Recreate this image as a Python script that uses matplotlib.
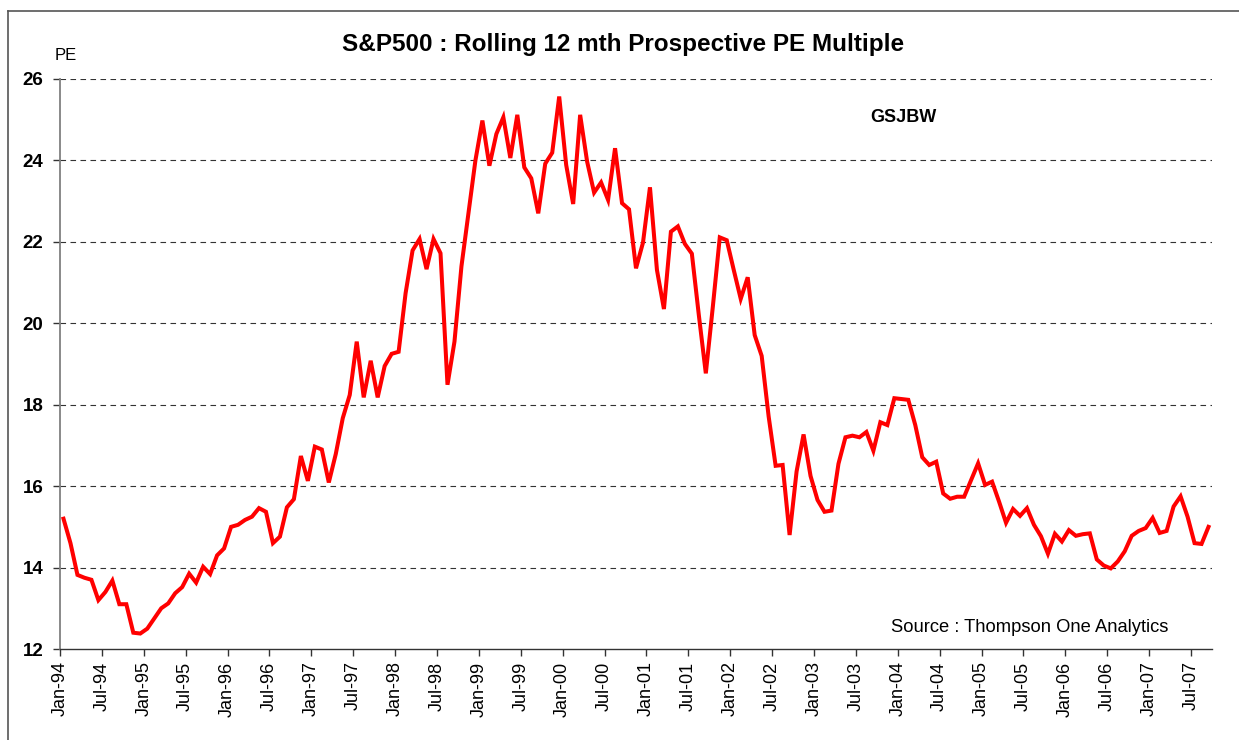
import matplotlib
matplotlib.use("Agg")
import matplotlib.pyplot as plt
from matplotlib.lines import Line2D
import numpy as np

plt.rcParams['font.family'] = ['Liberation Sans', 'DejaVu Sans']

# Monthly rolling 12-month prospective PE, Jan-94 .. Sep-07
pe_values = [
    15.2, 14.6, 13.82, 13.75, 13.7, 13.2, 13.4, 13.68, 13.1, 13.1, 12.4, 12.38,
    12.5, 12.75, 13.0, 13.12, 13.37, 13.52, 13.85, 13.63, 14.02, 13.84, 14.3, 14.47,
    15.0, 15.05, 15.17, 15.25, 15.46, 15.37, 14.6, 14.76, 15.48, 15.68, 16.74, 16.13,
    16.97, 16.9, 16.09, 16.79, 17.67, 18.24, 19.55, 18.18, 19.08, 18.18, 18.95, 19.25,
    19.3, 20.74, 21.79, 22.07, 21.33, 22.07, 21.72, 18.49, 19.55, 21.4, 22.7, 24.0,
    24.98, 23.87, 24.65, 25.06, 24.06, 25.12, 23.83, 23.56, 22.7, 23.92, 24.19, 25.57,
    23.89, 22.93, 25.12, 23.97, 23.21, 23.46, 23.03, 24.3, 22.95, 22.8, 21.35, 21.98,
    23.34, 21.31, 20.35, 22.25, 22.38, 21.95, 21.71, 20.2, 18.77, 20.4, 22.11, 22.04,
    21.31, 20.6, 21.13, 19.71, 19.2, 17.71, 16.5, 16.52, 14.8, 16.36, 17.27, 16.25,
    15.66, 15.37, 15.4, 16.55, 17.2, 17.24, 17.2, 17.33, 16.87, 17.57, 17.5, 18.16,
    18.14, 18.12, 17.5, 16.71, 16.52, 16.6, 15.82, 15.69, 15.74, 15.74, 16.15, 16.56,
    16.03, 16.11, 15.62, 15.1, 15.44, 15.27, 15.46, 15.05, 14.77, 14.34, 14.83, 14.64,
    14.92, 14.78, 14.82, 14.84, 14.2, 14.05, 13.98, 14.15, 14.4, 14.78, 14.9, 14.97,
    15.22, 14.85, 14.9, 15.5, 15.75, 15.25, 14.6, 14.58, 15.0,
]

tick_labels = [
    "Jan-94", "Jul-94", "Jan-95", "Jul-95", "Jan-96", "Jul-96", "Jan-97", "Jul-97",
    "Jan-98", "Jul-98", "Jan-99", "Jul-99", "Jan-00", "Jul-00", "Jan-01", "Jul-01",
    "Jan-02", "Jul-02", "Jan-03", "Jul-03", "Jan-04", "Jul-04", "Jan-05", "Jul-05",
    "Jan-06", "Jul-06", "Jan-07", "Jul-07",
]
y_ticks = [12, 14, 16, 18, 20, 22, 24, 26]

W, H = 1239, 740
fig = plt.figure(figsize=(W / 100, H / 100), dpi=100)
fig.patch.set_facecolor("white")

left, right, top, bottom = 60, 1212, 79, 649
ax = fig.add_axes([left / W, 1 - bottom / H, (right - left) / W, (bottom - top) / H])

n = len(pe_values)
x = np.arange(n)
ax.plot(x, pe_values, color="#FF0000", lw=2.9, solid_joinstyle="miter", zorder=3)

ax.set_xlim(-0.5, n - 0.5)
ax.set_ylim(12, 26)

tick_pos = [-0.5 + 6 * k for k in range(len(tick_labels))]
ax.set_xticks(tick_pos)
ax.set_xticklabels(tick_labels, rotation=90, fontsize=13)
ax.set_yticks(y_ticks)
ax.set_yticklabels([str(v) for v in y_ticks], fontsize=13.5, fontweight="bold")

ax.tick_params(axis="x", direction="out", length=5, width=1, color="#333333", pad=4)
ax.tick_params(axis="y", direction="out", length=5, width=1, color="#333333", pad=7)

for v in y_ticks[1:]:
    ax.axhline(v, color="#333333", lw=0.8, dashes=(5, 4), zorder=1)

for s in ["top", "right"]:
    ax.spines[s].set_visible(False)
ax.spines["left"].set_color("#808080")
ax.spines["left"].set_linewidth(1.3)
ax.spines["bottom"].set_color("#333333")
ax.spines["bottom"].set_linewidth(1.0)

fig.text(623 / W, 1 - 45 / H, "S&P500 : Rolling 12 mth Prospective PE Multiple",
         ha="center", va="center", fontsize=17.5, fontweight="bold")
fig.text(55 / W, 1 - 56 / H, "PE", ha="left", va="center", fontsize=12)
fig.text(903 / W, 1 - 117 / H, "GSJBW", ha="center", va="center", fontsize=13, fontweight="bold")
fig.text(1168 / W, 1 - 627 / H, "Source : Thompson One Analytics", ha="right", va="center",
         fontsize=13.2)

# outer chart frame
fig.add_artist(Line2D([8 / W, 8 / W], [0, 1 - 10.5 / H], transform=fig.transFigure,
                      color="#555555", lw=1.2))
fig.add_artist(Line2D([8 / W, 1], [1 - 10.5 / H, 1 - 10.5 / H], transform=fig.transFigure,
                      color="#555555", lw=1.2))

fig.savefig("out.png", dpi=100, facecolor="white")
